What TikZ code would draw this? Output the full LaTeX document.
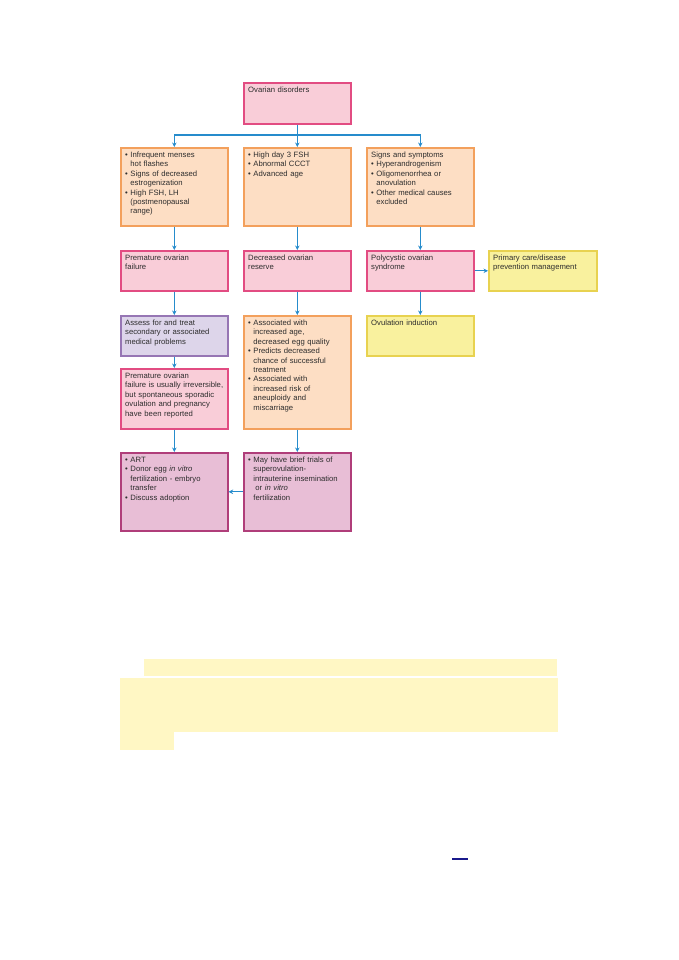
\documentclass[tikz,border=0pt]{standalone}
\usepackage{fontspec}
\setmainfont{Liberation Sans}
\usetikzlibrary{arrows.meta}
\definecolor{pinkfill}{RGB}{249,205,216}
\definecolor{pinkdraw}{RGB}{226,76,130}
\definecolor{orfill}{RGB}{253,222,196}
\definecolor{ordraw}{RGB}{243,160,92}
\definecolor{pufill}{RGB}{221,213,234}
\definecolor{pudraw}{RGB}{150,118,180}
\definecolor{yefill}{RGB}{249,241,158}
\definecolor{yedraw}{RGB}{232,210,80}
\definecolor{mafill}{RGB}{232,190,214}
\definecolor{madraw}{RGB}{176,62,122}
\definecolor{arrblue}{RGB}{38,140,204}
\definecolor{hilite}{RGB}{255,247,196}
\definecolor{navyline}{RGB}{25,25,140}
\definecolor{txtcol}{RGB}{45,45,45}
\newcommand{\itmf}{\setbox0\hbox{\textbullet\ }\hangindent=\wd0 \hangafter=1\noindent\box0 }
\newcommand{\itm}{\par\itmf}
\newcommand{\nl}{\hfil\break}
\tikzset{
  bx/.style={line width=1.6pt, inner sep=0pt, anchor=north west},
  pk/.style={bx, fill=pinkfill, draw=pinkdraw},
  orb/.style={bx, fill=orfill, draw=ordraw},
  pub/.style={bx, fill=pufill, draw=pudraw},
  yeb/.style={bx, fill=yefill, draw=yedraw},
  mab/.style={bx, fill=mafill, draw=madraw},
  tx/.style={anchor=base west, inner sep=0pt, align=left, text width=120pt,
    font=\fontsize{7.7}{9.4}\selectfont, text=txtcol},
  arr/.style={draw=arrblue, line width=1.1pt, -{Stealth[length=4.5pt,width=4.5pt]}}
}
\newcommand{\bxn}[7]{%
  \node[#2, minimum width=#5pt, minimum height=#6pt] (#1) at (#3,#4) {};
  \node[tx] (#1t) at ([shift={(5,10.5)}]#1.north west) {#7\par};}
\begin{document}
\begin{tikzpicture}[x=1pt,y=-1pt]
\useasboundingbox (0,0) rectangle (678,960);
\bxn{top}{pk}{243}{82}{107}{41}{Ovarian disorders}
\bxn{A}{orb}{120}{147}{107}{78}{\itmf Infrequent menses\nl hot flashes\itm Signs of decreased\nl estrogenization\itm High FSH, LH\nl (postmenopausal\nl range)}
\bxn{B}{orb}{243}{147}{107}{78}{\itmf High day 3 FSH\itm Abnormal CCCT\itm Advanced age}
\bxn{C}{orb}{366}{147}{107}{78}{Signs and symptoms\itm Hyperandrogenism\itm Oligomenorrhea or\nl anovulation\itm Other medical causes\nl excluded}
\bxn{pof}{pk}{120}{250}{107}{40}{Premature ovarian\\failure}
\bxn{dor}{pk}{243}{250}{107}{40}{Decreased ovarian\\reserve}
\bxn{pcos}{pk}{366}{250}{107}{40}{Polycystic ovarian\\syndrome}
\bxn{prim}{yeb}{488}{250}{108}{40}{Primary care/disease\\prevention management}
\bxn{assess}{pub}{120}{315}{107}{40}{Assess for and treat\\secondary or associated\\medical problems}
\bxn{dorinfo}{orb}{243}{315}{107}{113}{\itmf Associated with\nl increased age,\nl decreased egg quality\itm Predicts decreased\nl chance of successful\nl treatment\itm Associated with\nl increased risk of\nl aneuploidy and\nl miscarriage}
\bxn{ovul}{yeb}{366}{315}{107}{40}{Ovulation induction}
\bxn{irrev}{pk}{120}{368}{107}{60}{Premature ovarian\\failure is usually irreversible,\\but spontaneous sporadic\\ovulation and pregnancy\\have been reported}
\bxn{art}{mab}{120}{452}{107}{78}{\itmf ART\itm Donor egg \textit{in vitro}\nl fertilization - embryo\nl transfer\itm Discuss adoption}
\bxn{trials}{mab}{243}{452}{107}{78}{\itmf May have brief trials of\nl superovulation-\nl intrauterine insemination\nl \hspace*{2pt}or \textit{in vitro}\nl fertilization}
% connectors
\coordinate (bus) at (top.south |- 0,135);
\draw[arr] (top.south) -- (B.north);
\draw[arr] (bus) -| (A.north);
\draw[arr] (bus) -| (C.north);
\draw[arr] (A) -- (pof);
\draw[arr] (B) -- (dor);
\draw[arr] (C) -- (pcos);
\draw[arr] (pcos) -- (prim);
\draw[arr] (pof) -- (assess);
\draw[arr] (dor) -- (dorinfo);
\draw[arr] (pcos) -- (ovul);
\draw[arr] (assess) -- (irrev);
\draw[arr] (irrev) -- (art);
\draw[arr] (dorinfo) -- (trials);
\draw[arr] (trials) -- (art);
% highlight bands
\fill[hilite] (144,659) rectangle (557,676);
\fill[hilite] (120,678) rectangle (558,732);
\fill[hilite] (120,732) rectangle (174,750);
\draw[navyline, line width=1.5pt] (452,859) -- (468,859);
\end{tikzpicture}
\end{document}
